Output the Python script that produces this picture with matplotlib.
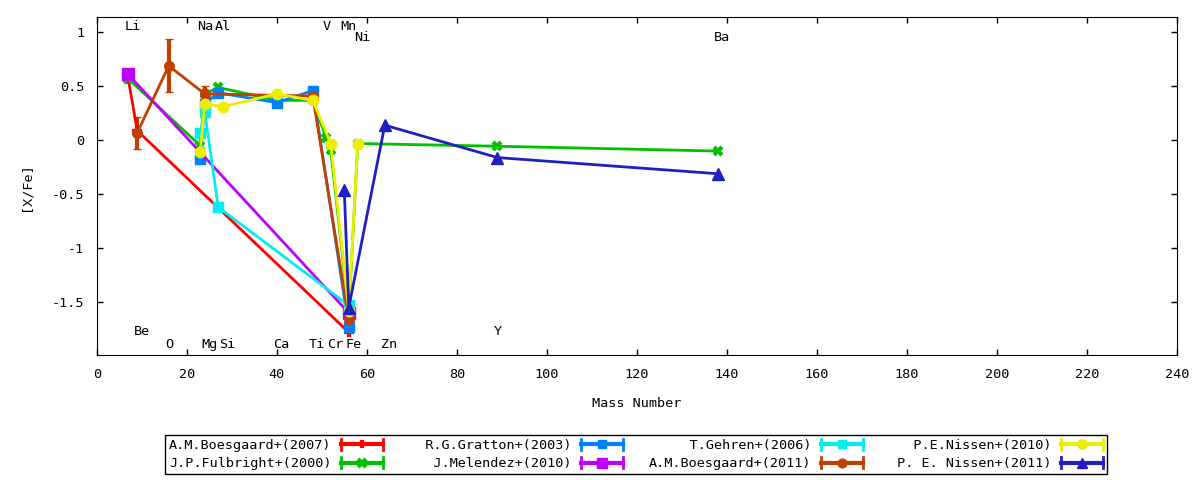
import matplotlib
matplotlib.use("Agg")
import matplotlib.pyplot as plt
from matplotlib.lines import Line2D
from matplotlib.legend_handler import HandlerLine2D

plt.rcParams['font.family'] = ['DejaVu Sans Mono', 'DejaVu Sans']
plt.rcParams['font.size'] = 9.7

# element labels: name, mass number, label height
el_names = ['Li', 'Na', 'Al', 'V', 'Mn', 'Ni', 'Ba',
            'Be', 'Y', 'O', 'Mg', 'Si', 'Ca', 'Ti', 'Cr', 'Fe', 'Zn']
el_mass = [7, 23, 27, 51, 55, 58, 138,
           9, 89, 16, 24, 28, 40, 48, 52, 56, 64]
el_ypos = [1.055, 1.055, 1.055, 1.055, 1.055, 0.955, 0.955,
           -1.77, -1.77, -1.89, -1.89, -1.89, -1.89, -1.89, -1.89, -1.89, -1.89]

# series (mass number, [X/Fe])
boes07_x = [7, 9, 56]
boes07_y = [0.57, 0.09, -1.78]

fulb_x = [7, 23, 24, 27, 40, 48, 51, 52, 56, 58, 89, 138]
fulb_y = [0.57, -0.05, 0.43, 0.49, 0.37, 0.37, 0.02, -0.09, -1.60, -0.03, -0.055, -0.10]

grat_x = [23, 24, 27, 40, 48, 56]
grat_y = [-0.17, 0.34, 0.44, 0.35, 0.46, -1.73]

mele_x = [7, 56]
mele_y = [0.61, -1.60]

gehr_x = [23, 24, 27, 56]
gehr_y = [0.07, 0.26, -0.62, -1.53]

boes11_x = [9, 16, 24, 48, 56]
boes11_y = [0.07, 0.69, 0.43, 0.41, -1.66]
boes11_err = [0.15, 0.245, 0.07, 0.07, 0.06]

nis10_x = [23, 24, 28, 40, 48, 52, 56, 58]
nis10_y = [-0.11, 0.34, 0.31, 0.43, 0.37, -0.03, -1.58, -0.03]

nis11_x = [55, 56, 64, 89, 138]
nis11_y = [-0.46, -1.55, 0.14, -0.16, -0.31]

labels = ['A.M.Boesgaard+(2007)', 'J.P.Fulbright+(2000)', 'R.G.Gratton+(2003)',
          'J.Melendez+(2010)', 'T.Gehren+(2006)', 'A.M.Boesgaard+(2011)',
          'P.E.Nissen+(2010)', 'P. E. Nissen+(2011)']
colors = ['#ff0000', '#00c000', '#0080ff', '#c000ff', '#00eeee', '#c04000',
          '#eeee00', '#2020c0']
markers = ['+', 'x', 's', 's', 's', 'o', 'o', '^']
msizes = [7, 6, 7, 8.5, 7, 7, 7.5, 8]

xs = [boes07_x, fulb_x, grat_x, mele_x, gehr_x, boes11_x, nis10_x, nis11_x]
ys = [boes07_y, fulb_y, grat_y, mele_y, gehr_y, boes11_y, nis10_y, nis11_y]
errs = [None, None, None, None, None, boes11_err, None, None]


class HandlerCapped(HandlerLine2D):
    # gnuplot-like key sample: line with small end ticks
    def create_artists(self, legend, orig_handle, xdescent, ydescent,
                       width, height, fontsize, trans):
        arts = super().create_artists(legend, orig_handle, xdescent, ydescent,
                                      width, height, fontsize, trans)
        yc = height / 2 - ydescent
        for xe in (-xdescent, width - xdescent):
            arts.append(Line2D([xe, xe], [yc - 4, yc + 4], color=orig_handle.get_color(),
                               lw=2, transform=trans))
        return arts


fig = plt.figure(figsize=(12, 4.8), dpi=100)
ax = fig.add_axes([0.0806, 0.2604, 0.9002, 0.7036])

handles = []
for x, y, e, c, m, ms, lab in zip(xs, ys, errs, colors, markers, msizes, labels):
    mew = 3 if m in ('+', 'x') else 1
    ax.errorbar(x, y, yerr=e, color=c, marker=m, markersize=ms, mew=mew,
                lw=2, elinewidth=3, capsize=3, capthick=3)
    handles.append(Line2D([], [], color=c, marker=m, markersize=ms * 0.9, mew=mew, lw=3))

for name, mx, my in zip(el_names, el_mass, el_ypos):
    ax.text(mx - 0.8, my, name, ha='left', va='center')

ax.set_xlim(0, 240)
ax.set_ylim(-1.99, 1.14)
ax.set_xticks(range(0, 241, 20))
ax.set_yticks([-1.5, -1, -0.5, 0, 0.5, 1])
ax.set_yticklabels(['-1.5', '-1', '-0.5', '0', '0.5', '1'])
ax.tick_params(direction='in', length=4, width=1, top=True, right=True, pad=9)
ax.set_xlabel('Mass Number', labelpad=12)
ax.set_ylabel('[X/Fe]', labelpad=14)

leg = fig.legend(handles, [l.rjust(20) for l in labels], loc='center',
                 bbox_to_anchor=(0.53, 0.053), ncol=4, markerfirst=False,
                 fancybox=False, edgecolor='black', framealpha=1,
                 handlelength=3.1, handletextpad=0.7, columnspacing=1.95,
                 borderpad=0.3, labelspacing=0.4, numpoints=1,
                 handler_map={Line2D: HandlerCapped()})
leg.get_frame().set_linewidth(1)

fig.savefig('out.png', dpi=100)
